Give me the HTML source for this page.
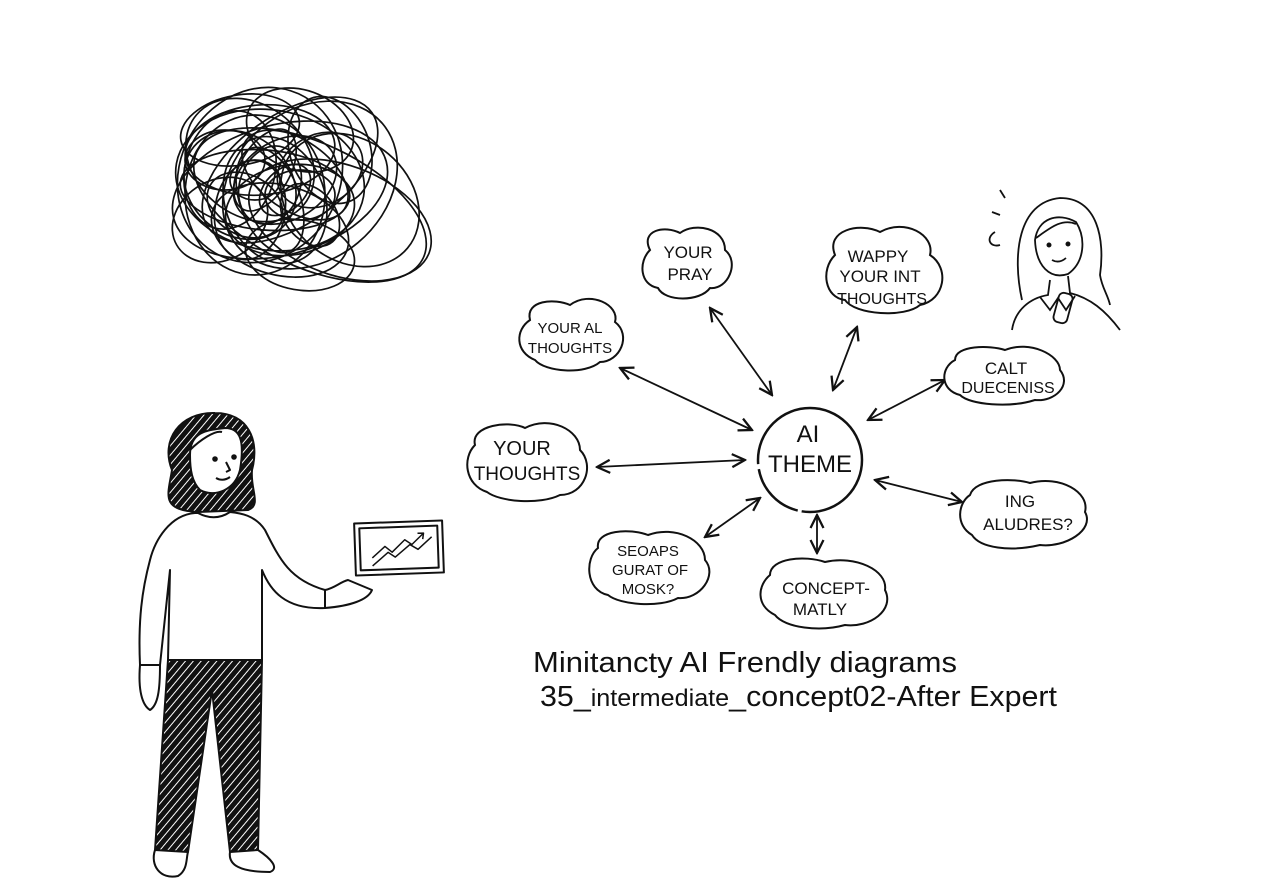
<!DOCTYPE html>
<html><head><meta charset="utf-8"><style>
html,body{margin:0;padding:0;background:#fff;}
svg{display:block}
text{font-family:"Liberation Sans",sans-serif;fill:#111}
.h{font-family:"Liberation Sans",sans-serif;font-size:17px;fill:#111;text-anchor:middle}
</style></head><body>
<svg width="1280" height="896" viewBox="0 0 1280 896" xmlns="http://www.w3.org/2000/svg">
<defs>
<pattern id="hatch" width="6" height="6" patternUnits="userSpaceOnUse" patternTransform="rotate(-50)">
<rect width="6" height="6" fill="#111"/><line x1="0" y1="3" x2="6" y2="3" stroke="#fff" stroke-width="1"/>
</pattern>
<marker id="ah" viewBox="0 0 10 10" refX="9" refY="5" markerWidth="9" markerHeight="9" orient="auto-start-reverse">
<path d="M1,1 L9,5 L1,9" fill="none" stroke="#111" stroke-width="1.4"/></marker>
</defs>
<rect width="1280" height="896" fill="#fff"/>
<g fill="none" stroke="#111" stroke-width="1.7">
<ellipse cx="270" cy="180" rx="95" ry="70" transform="rotate(10 270 180)"/>
<ellipse cx="280" cy="190" rx="110" ry="65" transform="rotate(-15 280 190)"/>
<ellipse cx="260" cy="175" rx="80" ry="90" transform="rotate(30 260 175)"/>
<ellipse cx="310" cy="205" rx="125" ry="62" transform="rotate(25 310 205)"/>
<ellipse cx="255" cy="195" rx="70" ry="80"/>
<ellipse cx="290" cy="170" rx="100" ry="55" transform="rotate(-35 290 170)"/>
<ellipse cx="340" cy="220" rx="95" ry="55" transform="rotate(20 340 220)"/>
<ellipse cx="240" cy="185" rx="60" ry="50" transform="rotate(40 240 185)"/>
<ellipse cx="275" cy="200" rx="50" ry="65" transform="rotate(-20 275 200)"/>
<ellipse cx="285" cy="180" rx="40" ry="55" transform="rotate(60 285 180)"/>
<ellipse cx="265" cy="190" rx="85" ry="40" transform="rotate(5 265 190)"/>
<ellipse cx="310" cy="185" rx="75" ry="95" transform="rotate(50 310 185)"/>
<ellipse cx="250" cy="160" rx="55" ry="70" transform="rotate(-50 250 160)"/>
<ellipse cx="290" cy="210" rx="65" ry="45" transform="rotate(-10 290 210)"/>
<ellipse cx="270" cy="185" rx="30" ry="40" transform="rotate(20 270 185)"/>
<ellipse cx="300" cy="195" rx="35" ry="25"/>
<ellipse cx="245" cy="205" rx="40" ry="30" transform="rotate(30 245 205)"/>
<ellipse cx="320" cy="170" rx="45" ry="35" transform="rotate(-30 320 170)"/>
<ellipse cx="280" cy="230" rx="70" ry="45" transform="rotate(15 280 230)"/>
<ellipse cx="260" cy="150" rx="75" ry="45" transform="rotate(-5 260 150)"/>
<ellipse cx="285" cy="190" rx="20" ry="30" transform="rotate(45 285 190)"/>
<ellipse cx="255" cy="180" rx="25" ry="20"/>
<ellipse cx="310" cy="215" rx="25" ry="35" transform="rotate(-40 310 215)"/>
<ellipse cx="230" cy="170" rx="45" ry="60" transform="rotate(15 230 170)"/>
<ellipse cx="350" cy="200" rx="75" ry="60" transform="rotate(40 350 200)"/>
<ellipse cx="240" cy="130" rx="60" ry="35" transform="rotate(-10 240 130)"/>
<ellipse cx="300" cy="130" rx="55" ry="40" transform="rotate(20 300 130)"/>
<ellipse cx="220" cy="220" rx="50" ry="40" transform="rotate(-30 220 220)"/>
<ellipse cx="300" cy="255" rx="55" ry="35" transform="rotate(10 300 255)"/>
<ellipse cx="270" cy="200" rx="55" ry="30" transform="rotate(70 270 200)"/>
<ellipse cx="265" cy="170" rx="45" ry="25" transform="rotate(-60 265 170)"/>
<ellipse cx="295" cy="175" rx="60" ry="35" transform="rotate(35 295 175)"/>
<ellipse cx="250" cy="210" rx="35" ry="50" transform="rotate(10 250 210)"/>
<ellipse cx="225" cy="160" rx="40" ry="30"/>
<ellipse cx="330" cy="150" rx="40" ry="55" transform="rotate(-20 330 150)"/>
</g>
<g stroke="#111" stroke-width="2" fill="none" stroke-linejoin="round">
<path d="M172,470 C160,440 180,412 215,413 C248,413 260,440 252,470 C250,490 262,505 248,510 L198,512 C160,510 168,495 172,470Z" fill="url(#hatch)"/>
<path d="M190,455 C190,430 210,430 225,428 C240,428 245,440 240,470 C235,490 215,498 200,490 C192,482 190,470 190,455Z" fill="#fff"/>
<path d="M190,450 C200,440 215,430 222,432" fill="none"/>
<circle cx="215" cy="459" r="1.8" fill="#111"/><circle cx="234" cy="457" r="1.8" fill="#111"/>
<path d="M226,462 L230,470 L226,472"/><path d="M216,478 Q223,482 230,477"/>
<path d="M195,513 C170,515 155,540 150,560 C142,590 138,620 140,665 L160,665 L170,570 L168,660 L262,660 L262,570 C270,590 285,610 325,608 L325,590 C290,580 280,560 265,530 C255,515 240,513 230,512 Q215,522 198,513Z" fill="#fff"/>
<path d="M168,660 L155,850 L188,852 L212,690 L230,852 L258,850 L262,660Z" fill="url(#hatch)"/>
<path d="M140,665 C138,690 142,705 150,710 C158,705 160,690 160,665"/>
<path d="M155,850 C150,865 160,880 178,876 C188,870 186,858 188,852"/>
<path d="M230,852 C228,865 240,872 270,872 C280,868 270,858 258,850"/>
<path d="M325,590 C335,588 340,582 348,580 L372,590 C368,600 350,606 325,608"/>
<g transform="rotate(-2 398 548)">
<rect x="355" y="522" width="88" height="52"/><rect x="360" y="527" width="78" height="42"/>
<path d="M372,565 L388,552 L395,557 L410,545 L418,550 L432,538" stroke-width="1.5"/>
<path d="M372,557 L385,546 L392,552 L405,540 L412,545 L424,534 M418,534 L424,534 L423,540" stroke-width="1.5"/>
</g>
</g>
<g stroke="#111" stroke-width="1.8" fill="none">
<path d="M1022,300 C1012,255 1018,202 1060,198 C1098,198 1105,240 1100,275 C1102,288 1108,295 1110,305"/>
<path d="M1035,240 C1038,218 1058,212 1076,222 C1086,238 1085,262 1068,274 C1050,280 1036,266 1035,240Z" fill="#fff"/>
<path d="M1036,238 C1050,228 1062,218 1076,224"/>
<circle cx="1049" cy="245" r="1.6" fill="#111"/><circle cx="1068" cy="244" r="1.6" fill="#111"/>
<path d="M1052,260 Q1059,264 1066,258"/>
<path d="M1050,280 L1048,295 C1030,298 1015,310 1012,330 M1068,276 L1070,293 C1090,298 1105,310 1120,330"/>
<path d="M1040,297 L1050,310 L1058,298 L1066,310 L1075,296"/>
<rect x="1056" y="293" width="14" height="30" rx="5" transform="rotate(15 1063 308)"/>
<path d="M1000,190 L1005,198 M992,212 L1000,215 M995,232 C985,238 990,248 1000,245"/>
</g>
<g stroke="#111" stroke-width="1.8" fill="none" marker-start="url(#ah)" marker-end="url(#ah)">
<line x1="710" y1="308" x2="772" y2="395"/>
<line x1="857" y1="327" x2="833" y2="390"/>
<line x1="620" y1="368" x2="752" y2="430"/>
<line x1="945" y1="380" x2="868" y2="420"/>
<line x1="597" y1="467" x2="745" y2="460"/>
<line x1="875" y1="480" x2="962" y2="502"/>
<line x1="705" y1="537" x2="760" y2="498"/>
<line x1="817" y1="515" x2="817" y2="553"/>
</g>
<circle cx="810" cy="460" r="52" fill="#fff" stroke="#111" stroke-width="2.5" stroke-dasharray="90 4 60 5 200"/>
<text class="h" x="808" y="442" style="font-size:24px">AI</text>
<text class="h" x="810" y="472" style="font-size:24px">THEME</text>
<g fill="#fff" stroke="#111" stroke-width="2">
<path d="M650,250 C640,230 665,225 680,233 C695,222 725,228 725,250 C740,262 728,290 710,288 C700,302 665,302 658,288 C640,285 638,262 650,250Z"/>
<path d="M835,255 C825,230 860,222 880,232 C905,218 935,235 930,255 C950,268 945,300 920,305 C905,318 855,315 845,300 C825,298 820,270 835,255Z"/>
<path d="M530,320 C525,300 555,298 570,305 C590,290 620,305 615,322 C632,335 620,362 600,362 C585,375 545,372 535,360 C515,352 515,330 530,320Z"/>
<path d="M955,360 C955,345 990,345 1005,350 C1030,340 1060,355 1060,370 C1072,385 1055,402 1035,400 C1010,408 970,405 960,395 C940,390 940,368 955,360Z"/>
<path d="M475,445 C470,425 510,420 525,428 C550,415 580,430 580,450 C595,465 585,495 560,495 C540,505 500,502 487,492 C465,485 462,458 475,445Z"/>
<path d="M970,495 C975,478 1015,478 1030,483 C1060,475 1090,492 1085,512 C1095,530 1065,548 1040,545 C1010,552 980,548 972,535 C955,525 958,503 970,495Z"/>
<path d="M598,548 C595,530 630,528 648,535 C675,525 705,540 705,560 C718,575 700,600 678,598 C660,608 620,605 608,595 C585,590 585,558 598,548Z"/>
<path d="M770,575 C770,558 805,555 825,562 C855,555 888,570 885,590 C895,610 870,628 845,625 C820,632 785,628 775,615 C755,605 758,585 770,575Z"/>
</g>
<text class="h" x="688" y="258">YOUR</text><text class="h" x="690" y="280">PRAY</text>
<text class="h" x="878" y="262">WAPPY</text><text class="h" x="880" y="282">YOUR INT</text><text class="h" x="882" y="304" style="font-size:16px">THOUGHTS</text>
<text class="h" x="570" y="333" style="font-size:15px">YOUR AL</text><text class="h" x="570" y="353" style="font-size:15px">THOUGHTS</text>
<text class="h" x="1006" y="374">CALT</text><text class="h" x="1008" y="393" style="font-size:16px">DUECENISS</text>
<text class="h" x="522" y="455" style="font-size:20px">YOUR</text><text class="h" x="527" y="480" style="font-size:19px">THOUGHTS</text>
<text class="h" x="1020" y="507">ING</text><text class="h" x="1028" y="530">ALUDRES?</text>
<text class="h" x="648" y="556" style="font-size:15px">SEOAPS</text><text class="h" x="650" y="575" style="font-size:15px">GURAT OF</text><text class="h" x="648" y="594" style="font-size:15px">MOSK?</text>
<text class="h" x="826" y="594">CONCEPT-</text><text class="h" x="820" y="615">MATLY</text>
<text x="533" y="672" style="font-size:29px" textLength="424" lengthAdjust="spacingAndGlyphs">Minitancty AI Frendly diagrams</text>
<text x="540" y="706" style="font-size:29px" textLength="517" lengthAdjust="spacingAndGlyphs">35_<tspan style="font-size:24px">intermediate</tspan>_concept02-After Expert</text>
</svg>
</body></html>
